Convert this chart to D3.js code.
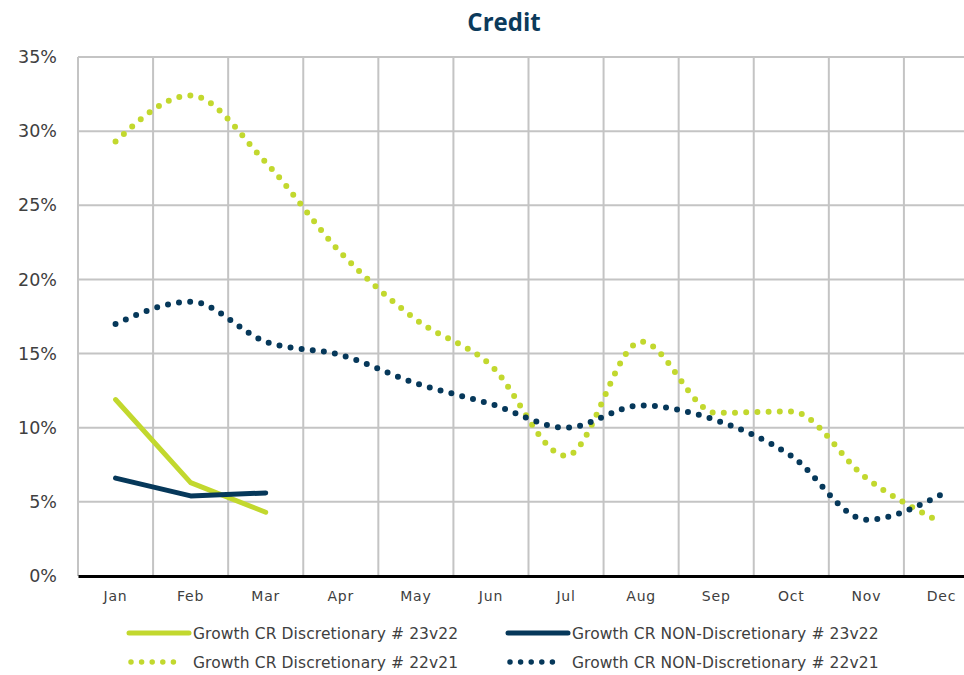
<!DOCTYPE html>
<html>
<head>
<meta charset="utf-8">
<script src="https://cdn.jsdelivr.net/npm/d3@7"></script>
<style>
  html, body { margin: 0; padding: 0; background: #fff; }
  svg { display: block; }
  text { font-family: "DejaVu Sans", "Open Sans", sans-serif; }
</style>
</head>
<body>
<svg id="chart" width="964" height="675"></svg>
<script>
// Month categories and tick values
const months = ["Jan", "Feb", "Mar", "Apr", "May", "Jun", "Jul", "Aug", "Sep", "Oct", "Nov", "Dec"];
const yTicks = [0, 5, 10, 15, 20, 25, 30, 35];

// Growth rates (%), current year vs previous (Jan–Mar only)
const discretionary23v22 = [11.9, 6.3, 4.3];
const nonDiscretionary23v22 = [6.6, 5.4, 5.6];

// Growth rates (%), previous year comparison
const discretionary22v21 = [29.3, 32.4, 27.9, 21.8, 17.3, 14.2, 8.1, 15.8, 11.0, 11.1, 6.6, 3.6];
const nonDiscretionary22v21 = [17.0, 18.5, 15.8, 14.9, 13.0, 11.6, 10.0, 11.5, 10.5, 8.1, 3.8, 5.5];

const GREEN = "#c2d82e";
const NAVY = "#06385a";

const series = [
  { name: "Growth CR Discretionary # 23v22", values: discretionary23v22, color: GREEN, dotted: false },
  { name: "Growth CR NON-Discretionary # 23v22", values: nonDiscretionary23v22, color: NAVY, dotted: false },
  { name: "Growth CR Discretionary # 22v21", values: discretionary22v21, color: GREEN, dotted: true },
  { name: "Growth CR NON-Discretionary # 22v21", values: nonDiscretionary22v21, color: NAVY, dotted: true }
];

const svg = d3.select("#chart");
const plotLeft = 78, plotRight = 979, plotTop = 57, plotBottom = 576;

const x = d3.scaleBand().domain(months).range([plotLeft, plotRight]).paddingInner(0).paddingOuter(0);
const y = d3.scaleLinear().domain([0, 35]).range([plotBottom, plotTop]);
const cx = m => x(m) + x.bandwidth() / 2;

// Title
svg.append("text")
  .attr("x", 504).attr("y", 31)
  .attr("text-anchor", "middle")
  .attr("font-size", 25).attr("font-weight", 700)
  .attr("fill", "#0b3a5b")
  .style("font-family", "'Open Sans', sans-serif")
  .attr("transform", "translate(504,0) scale(0.96,1) translate(-504,0)")
  .text("Credit");

// Horizontal gridlines
svg.append("g").selectAll("line").data(yTicks.filter(d => d > 0)).join("line")
  .attr("x1", plotLeft).attr("x2", plotRight)
  .attr("y1", d => y(d)).attr("y2", d => y(d))
  .attr("stroke", "#c4c4c4").attr("stroke-width", 2);

// Vertical gridlines at category boundaries
svg.append("g").selectAll("line").data(months).join("line")
  .attr("x1", d => x(d)).attr("x2", d => x(d))
  .attr("y1", plotTop).attr("y2", plotBottom)
  .attr("stroke", "#c4c4c4").attr("stroke-width", 2);

// Y axis labels
const yAxis = d3.axisLeft(y).tickValues(yTicks).tickFormat(d => d + "%").tickSize(0).tickPadding(21);
const gy = svg.append("g").attr("transform", `translate(${plotLeft},0)`).call(yAxis);
gy.select(".domain").remove();
gy.selectAll("text").attr("font-size", 17.5).attr("fill", "#404040")
  .style("font-family", "'DejaVu Sans', sans-serif");

// X axis baseline and labels
const xAxis = d3.axisBottom(x).tickSize(0).tickPadding(15);
const gx = svg.append("g").attr("transform", `translate(0,${plotBottom})`).call(xAxis);
gx.select(".domain").attr("stroke", "#000").attr("stroke-width", 3);
gx.selectAll("text").attr("font-size", 14).attr("fill", "#404040")
  .attr("letter-spacing", "0.8px")
  .style("font-family", "'DejaVu Sans', sans-serif");

// Lines: previous-year series are smoothed, current-year series are straight
const smooth = d3.line()
  .x((d, i) => cx(months[i]))
  .y(d => y(d))
  .curve(d3.curveMonotoneX);
const straight = d3.line()
  .x((d, i) => cx(months[i]))
  .y(d => y(d));

const drawOrder = [series[2], series[3], series[0], series[1]];
svg.append("g").selectAll("path").data(drawOrder).join("path")
  .attr("d", s => (s.dotted ? smooth : straight)(s.values))
  .attr("fill", "none")
  .attr("stroke", s => s.color)
  .attr("stroke-width", s => s.dotted ? 6 : 5)
  .attr("stroke-linecap", "round")
  .attr("stroke-linejoin", "round")
  .attr("stroke-dasharray", s => s.dotted ? "0 11.2" : null);

// Legend
const legendPos = [
  { x: 129, y: 633 }, { x: 508, y: 633 },
  { x: 129, y: 662 }, { x: 508, y: 662 }
];
const lg = svg.append("g").selectAll("g").data(series).join("g")
  .attr("transform", (d, i) => `translate(${legendPos[i].x},${legendPos[i].y})`);
lg.append("line")
  .attr("x1", s => s.dotted ? 2 : 0).attr("x2", s => s.dotted ? 55 : 60)
  .attr("y1", 0).attr("y2", 0)
  .attr("stroke", s => s.color)
  .attr("stroke-width", s => s.dotted ? 5.5 : 5)
  .attr("stroke-linecap", "round")
  .attr("stroke-dasharray", s => s.dotted ? "0 10.6" : null);
lg.append("text")
  .attr("x", 64).attr("y", 5.5)
  .attr("font-size", 15.5).attr("fill", "#404040")
  .attr("letter-spacing", "0.1px")
  .style("font-family", "'DejaVu Sans', sans-serif")
  .text(s => s.name);
</script>
</body>
</html>
